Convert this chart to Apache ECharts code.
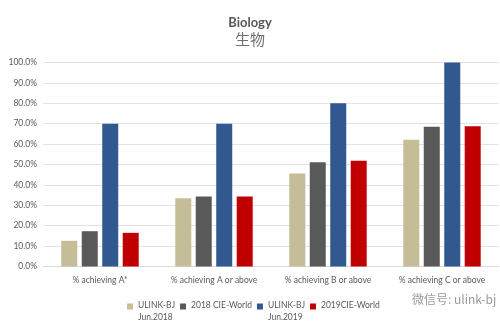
<!DOCTYPE html>
<html><head><meta charset="utf-8">
<script src="https://cdn.jsdelivr.net/npm/echarts@6/dist/echarts.min.js"></script>
<style>html,body{margin:0;padding:0;background:#fff}#c{width:500px;height:333px}</style>
</head><body><div id="c"></div>
<script>
var categories = ['% achieving A*', '% achieving A or above', '% achieving B or above', '% achieving C or above'];
var seriesNames = ['ULINK-BJ Jun.2018', '2018 CIE-World', 'ULINK-BJ Jun.2019', '2019CIE-World'];
var ulink2018 = [0.126, 0.335, 0.456, 0.621];
var cie2018 = [0.173, 0.343, 0.511, 0.685];
var ulink2019 = [0.70, 0.70, 0.80, 1.00];
var cie2019 = [0.165, 0.343, 0.518, 0.687];
var yTicks = [0, 0.1, 0.2, 0.3, 0.4, 0.5, 0.6, 0.7, 0.8, 0.9, 1.0];

var colors = ['#C4BD97', '#595959', '#31598F', '#C00000'];
var font = 'Lato';
var chart = echarts.init(document.getElementById('c'));
var dataSets = [ulink2018, cie2018, ulink2019, cie2019];
chart.setOption({
  animation: false,
  backgroundColor: '#fff',
  color: colors,
  title: {
    text: 'Biology', subtext: '生物', left: 'center', top: 11, itemGap: 3,
    textStyle: {fontFamily: font, fontSize: 13, fontWeight: 'bold', color: '#595959'},
    subtextStyle: {fontFamily: 'Noto Sans CJK SC', fontSize: 15, color: '#6f6f6f'}
  },
  grid: {left: 43, right: 1, top: 62.5, bottom: 66.5, containLabel: false},
  xAxis: {
    type: 'category', data: categories,
    axisLine: {lineStyle: {color: '#d9d9d9'}},
    axisTick: {show: false},
    axisLabel: {fontFamily: font, fontSize: 8.5, color: '#595959', margin: 9, interval: 0}
  },
  yAxis: {
    type: 'value', min: 0, max: 1, interval: 0.1,
    axisLine: {show: false}, axisTick: {show: false},
    splitLine: {lineStyle: {color: '#e3e3e3'}},
    axisLabel: {fontFamily: font, fontSize: 8.5, color: '#595959', margin: 6,
      formatter: function (v) { return (v * 100).toFixed(1) + '%'; }}
  },
  legend: {
    top: 295, left: 122, itemGap: 5,
    itemWidth: 6, itemHeight: 16,
    icon: 'path://M0,0H6V6H0Z M0,16H0.01V16.01H0Z',
    textStyle: {fontFamily: font, fontSize: 8.5, color: '#595959', lineHeight: 11.5},
    formatter: function (n) { return n.indexOf(' Jun') >= 0 ? n.replace(' Jun', '\nJun') : n + '\n '; },
    data: seriesNames
  },
  graphic: [{
    type: 'text', left: 412, top: 293,
    style: {text: '微信号: ulink-bj', fontFamily: 'Noto Sans CJK SC', fontSize: 12, fill: '#9a9a9a'}
  }],
  series: seriesNames.map(function (n, i) {
    return {name: n, type: 'bar', data: dataSets[i], barWidth: 16, barGap: '28%'};
  })
});
</script></body></html>
